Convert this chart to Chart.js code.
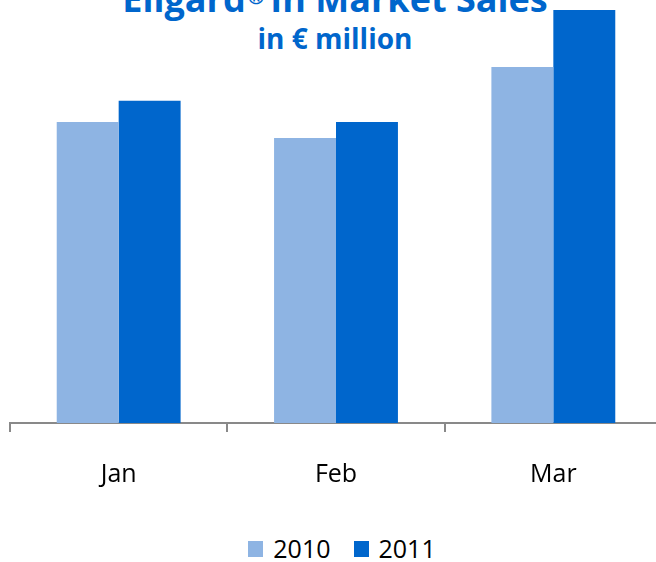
<!DOCTYPE html>
<html>
<head>
<meta charset="utf-8">
<script src="https://cdn.jsdelivr.net/npm/chart.js@4.4.0/dist/chart.umd.min.js"></script>
<style>
html, body { margin:0; padding:0; background:#fff; overflow:hidden; width:656px; height:562px; }
body { position:relative; font-family:"Open Sans", sans-serif; }
#wrap { position:absolute; left:0; top:0; width:672px; height:518px; }
.title { position:absolute; left:0; width:670px; text-align:center; color:#0066CC; font-weight:bold; white-space:nowrap; }
#t1 { top:-19px; font-size:36px; line-height:36px; }
#t1 sup { font-size:20px; vertical-align:top; position:relative; top:-2px; margin:0 6px 0 2px; }
#t2 { top:24px; font-size:28px; line-height:28px; }
#graphLegend { position:absolute; left:0; top:536px; width:684px; display:flex; justify-content:center; font-size:25px; line-height:25px; color:#000; }
.graphLabel { display:flex; align-items:flex-start; }
.graphLabel + .graphLabel { margin-left:23px; }
.graphColor { width:15px; height:16px; margin-top:5px; margin-right:10px; }
</style>
</head>
<body>
<div class="title" id="t1">Eligard<sup>®</sup>In Market Sales</div>
<div class="title" id="t2">in € million</div>
<div id="wrap"><canvas id="chart"></canvas></div>
<div id="graphLegend"></div>
<script>
var months = ['Jan', 'Feb', 'Mar'];
var sales2010 = [7.29, 6.90, 8.62];
var sales2011 = [7.80, 7.29, 10.0];
var seriesNames = ['2010', '2011'];
var seriesColors = ['#8EB4E3', '#0066CC'];

function initializeLegend() {
	var legend = document.getElementById("graphLegend");
	for (var k in seriesNames) {
		var label = document.createElement("div");
		var span = document.createElement("div");
		var color = document.createElement("div");
		label.className = "graphLabel";
		span.className = "graphSpan";
		color.className = "graphColor";
		span.innerHTML = seriesNames[k];
		color.style.backgroundColor = seriesColors[k];
		label.appendChild(color);
		label.appendChild(span);
		legend.appendChild(label);
	}
}

function createChart() {
	var ctx = document.getElementById("chart").getContext("2d");
	new Chart(ctx, {
		type: 'bar',
		data: {
			labels: months,
			datasets: [
				{ label: seriesNames[0], data: sales2010, backgroundColor: seriesColors[0], borderWidth: 0 },
				{ label: seriesNames[1], data: sales2011, backgroundColor: seriesColors[1], borderWidth: 0 }
			]
		},
		options: {
			responsive: true,
			maintainAspectRatio: false,
			animation: false,
			datasets: { bar: { categoryPercentage: 0.57, barPercentage: 1.0 } },
			layout: { padding: { left: 10, right: 10, top: 10, bottom: 0 } },
			plugins: {
				legend: { display: false },
				title: { display: false },
				tooltip: { enabled: false }
			},
			scales: {
				y: { display: false, min: 0, max: 10 },
				x: {
					offset: true,
					grid: { display: true, offset: true, drawOnChartArea: false, drawTicks: true, tickLength: 9, color: '#898989', lineWidth: 2 },
					border: { display: true, color: '#898989', width: 2 },
					ticks: {
						padding: 28,
						color: '#000',
						maxRotation: 0,
						font: { family: '"Open Sans", sans-serif', size: 25 }
					}
				}
			}
		}
	});
}

window.onload = function() {
	initializeLegend();
	createChart();
};
</script>
</body>
</html>
